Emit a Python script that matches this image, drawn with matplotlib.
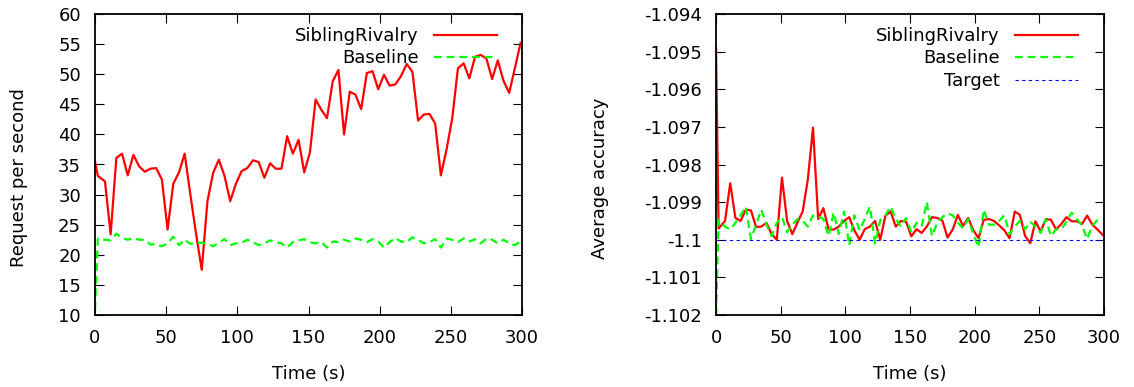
import matplotlib
matplotlib.use("Agg")
import matplotlib.pyplot as plt

plt.rcParams['font.family'] = ['DejaVu Sans']

# ---------------- data ----------------
times = [0, 2, 7, 11, 15, 19, 23, 27, 31, 35, 39, 43, 47, 51, 55, 59, 63, 67, 71, 75,
         79, 83, 87, 91, 95, 99, 103, 107, 111, 115, 119, 123, 127, 131, 135, 139,
         143, 147, 151, 155, 159, 163, 167, 171, 175, 179, 183, 187, 191, 195, 199,
         203, 207, 211, 215, 219, 223, 227, 231, 235, 239, 243, 247, 251, 255, 259,
         263, 267, 271, 275, 279, 283, 287, 291, 295, 299]

rps_sibling = [35.5, 33.1, 32.2, 23.4, 36.1, 36.8, 33.2, 36.6, 34.7, 33.8,
               34.3, 34.4, 32.5, 24.2, 31.8, 33.7, 36.8, 30.0, 23.5, 17.5,
               28.9, 33.6, 35.8, 33.1, 28.9, 31.8, 33.9, 34.4, 35.7, 35.4,
               32.8, 35.2, 34.3, 34.3, 39.7, 36.8, 39.1, 33.7, 37.0, 45.8,
               44.1, 42.7, 48.8, 50.7, 40.0, 47.1, 46.6, 44.2, 50.2, 50.5,
               47.5, 49.9, 48.1, 48.3, 49.7, 51.7, 50.4, 42.3, 43.3, 43.4,
               41.8, 33.2, 37.5, 42.7, 51.0, 51.8, 49.3, 52.9, 53.2, 52.6,
               49.2, 52.3, 48.9, 46.9, 51.0, 55.2]

rps_baseline = [11.0, 22.7, 22.5, 22.4, 23.5, 22.8, 22.5, 22.8, 22.5, 22.5,
                21.7, 21.8, 21.4, 21.9, 23.0, 21.6, 22.5, 21.8, 22.0, 22.0,
                21.9, 21.4, 22.0, 22.6, 21.6, 21.9, 22.0, 22.5, 22.1, 21.6,
                21.9, 22.4, 22.1, 21.9, 21.2, 22.1, 22.4, 22.6, 22.1, 21.9,
                22.1, 21.2, 22.2, 22.1, 22.5, 22.2, 22.7, 22.5, 22.1, 22.6,
                22.2, 21.2, 22.1, 22.8, 22.2, 22.1, 22.9, 22.5, 21.9, 22.1,
                22.6, 21.2, 22.7, 22.5, 22.1, 22.7, 22.2, 22.6, 21.9, 22.7,
                22.5, 21.9, 22.5, 21.9, 21.6, 22.2]

acc_sibling = [-1.0949, -1.0997, -1.0995, -1.0985, -1.09942, -1.0995, -1.0992, -1.09922, -1.09966, -1.09965,
               -1.09955, -1.09985, -1.1, -1.09835, -1.0995, -1.09985, -1.09954, -1.09925, -1.0984, -1.09702,
               -1.09945, -1.09916, -1.09972, -1.09973, -1.09965, -1.0995, -1.0994, -1.09975, -1.1, -1.09972,
               -1.09965, -1.0995, -1.1, -1.09936, -1.09925, -1.09965, -1.0995, -1.09952, -1.09991, -1.09972,
               -1.09982, -1.09965, -1.0994, -1.09942, -1.09949, -1.09994, -1.09973, -1.09934, -1.09963, -1.09942,
               -1.09975, -1.09996, -1.09947, -1.09945, -1.0995, -1.09962, -1.09975, -1.09996, -1.09925, -1.09934,
               -1.0999, -1.10009, -1.09951, -1.09978, -1.09945, -1.09947, -1.09973, -1.09958, -1.0994, -1.09951,
               -1.09951, -1.09958, -1.09936, -1.0996, -1.09973, -1.09987]

acc_baseline = [-1.102, -1.09947, -1.09965, -1.09973, -1.09955, -1.09935, -1.09912, -1.09998, -1.0996, -1.0992,
                -1.0996, -1.0999, -1.09955, -1.0994, -1.0998, -1.0996, -1.09945, -1.0995, -1.09965, -1.09935,
                -1.09938, -1.09945, -1.0999, -1.09928, -1.09985, -1.09925, -1.10015, -1.09935, -1.09975, -1.09945,
                -1.09912, -1.1001, -1.09948, -1.09935, -1.09912, -1.09945, -1.09965, -1.09942, -1.0998, -1.09955,
                -1.09965, -1.099, -1.0999, -1.09955, -1.0994, -1.0993, -1.09935, -1.09955, -1.0997, -1.09945,
                -1.09985, -1.1002, -1.0992, -1.0996, -1.0996, -1.0995, -1.09935, -1.09985, -1.09965, -1.0995,
                -1.09972, -1.09952, -1.09965, -1.09982, -1.09945, -1.0999, -1.09972, -1.09972, -1.09952, -1.09928,
                -1.09945, -1.09962, -1.09998, -1.09962, -1.09948, -1.0995]

target_times = [0, 300]
target_values = [-1.1, -1.1]

x_ticks = [0, 50, 100, 150, 200, 250, 300]
x_ticklabels = ['0', '50', '100', '150', '200', '250', '300']
rps_ticks = [10, 15, 20, 25, 30, 35, 40, 45, 50, 55, 60]
rps_ticklabels = ['10', '15', '20', '25', '30', '35', '40', '45', '50', '55', '60']
acc_ticks = [-1.102, -1.101, -1.100, -1.099, -1.098, -1.097, -1.096, -1.095, -1.094]
acc_ticklabels = ['-1.102', '-1.101', '-1.1', '-1.099', '-1.098', '-1.097', '-1.096', '-1.095', '-1.094']

# ---------------- figure ----------------
W, H = 1134, 387
fig = plt.figure(figsize=(W / 100, H / 100), dpi=100)

def px_axes(x0, x1, y0, y1):
    return fig.add_axes([x0 / W, 1 - y1 / H, (x1 - x0) / W, (y1 - y0) / H])

ax1 = px_axes(95, 522, 14, 315)
ax2 = px_axes(716, 1104, 14, 315)

FS = 13
RED = '#ff0000'
GREEN = '#00ff00'
BLUE = '#0000ff'

ax1.plot(times, rps_sibling, color=RED, lw=1.6, label='SiblingRivalry')
ax1.plot(times, rps_baseline, color=GREEN, lw=1.6, linestyle=(0, (3.5, 2.2)), label='Baseline')

ax2.plot(times, acc_sibling, color=RED, lw=1.6, label='SiblingRivalry')
ax2.plot(times, acc_baseline, color=GREEN, lw=1.6, linestyle=(0, (3.5, 2.2)), label='Baseline')
ax2.plot(target_times, target_values, color=BLUE, lw=0.8, linestyle=(0, (3, 3)), label='Target')

for ax in (ax1, ax2):
    ax.set_xlim(0, 300)
    ax.set_xticks(x_ticks)
    ax.set_xticklabels(x_ticklabels)
    ax.tick_params(axis='both', which='both', direction='in', length=6.5, width=0.8,
                   top=True, right=True, labelsize=FS, colors='black')
    ax.tick_params(axis='x', pad=10)
    ax.tick_params(axis='y', pad=10)
    for s in ax.spines.values():
        s.set_linewidth(1.3)
    ax.set_xlabel('Time (s)', fontsize=FS, labelpad=13)

ax1.set_ylim(10, 60)
ax1.set_yticks(rps_ticks)
ax1.set_yticklabels(rps_ticklabels)
ax1.set_ylabel('Request per second', fontsize=FS)
ax1.yaxis.set_label_coords(-0.157, 0.455)

ax2.set_ylim(-1.102, -1.094)
ax2.set_yticks(acc_ticks)
ax2.set_yticklabels(acc_ticklabels)
ax2.set_ylabel('Average accuracy', fontsize=FS)
ax2.yaxis.set_label_coords(-0.277, 0.455)

leg_kw = dict(loc='upper right', frameon=False, markerfirst=False, fontsize=FS,
              handlelength=3.5, handletextpad=0.85, labelspacing=0.25,
              borderaxespad=0, borderpad=0)
ax1.legend(bbox_to_anchor=(0.9415, 0.957), **leg_kw)
ax2.legend(bbox_to_anchor=(0.933, 0.957), **leg_kw)

fig.savefig('out.png', dpi=100)
